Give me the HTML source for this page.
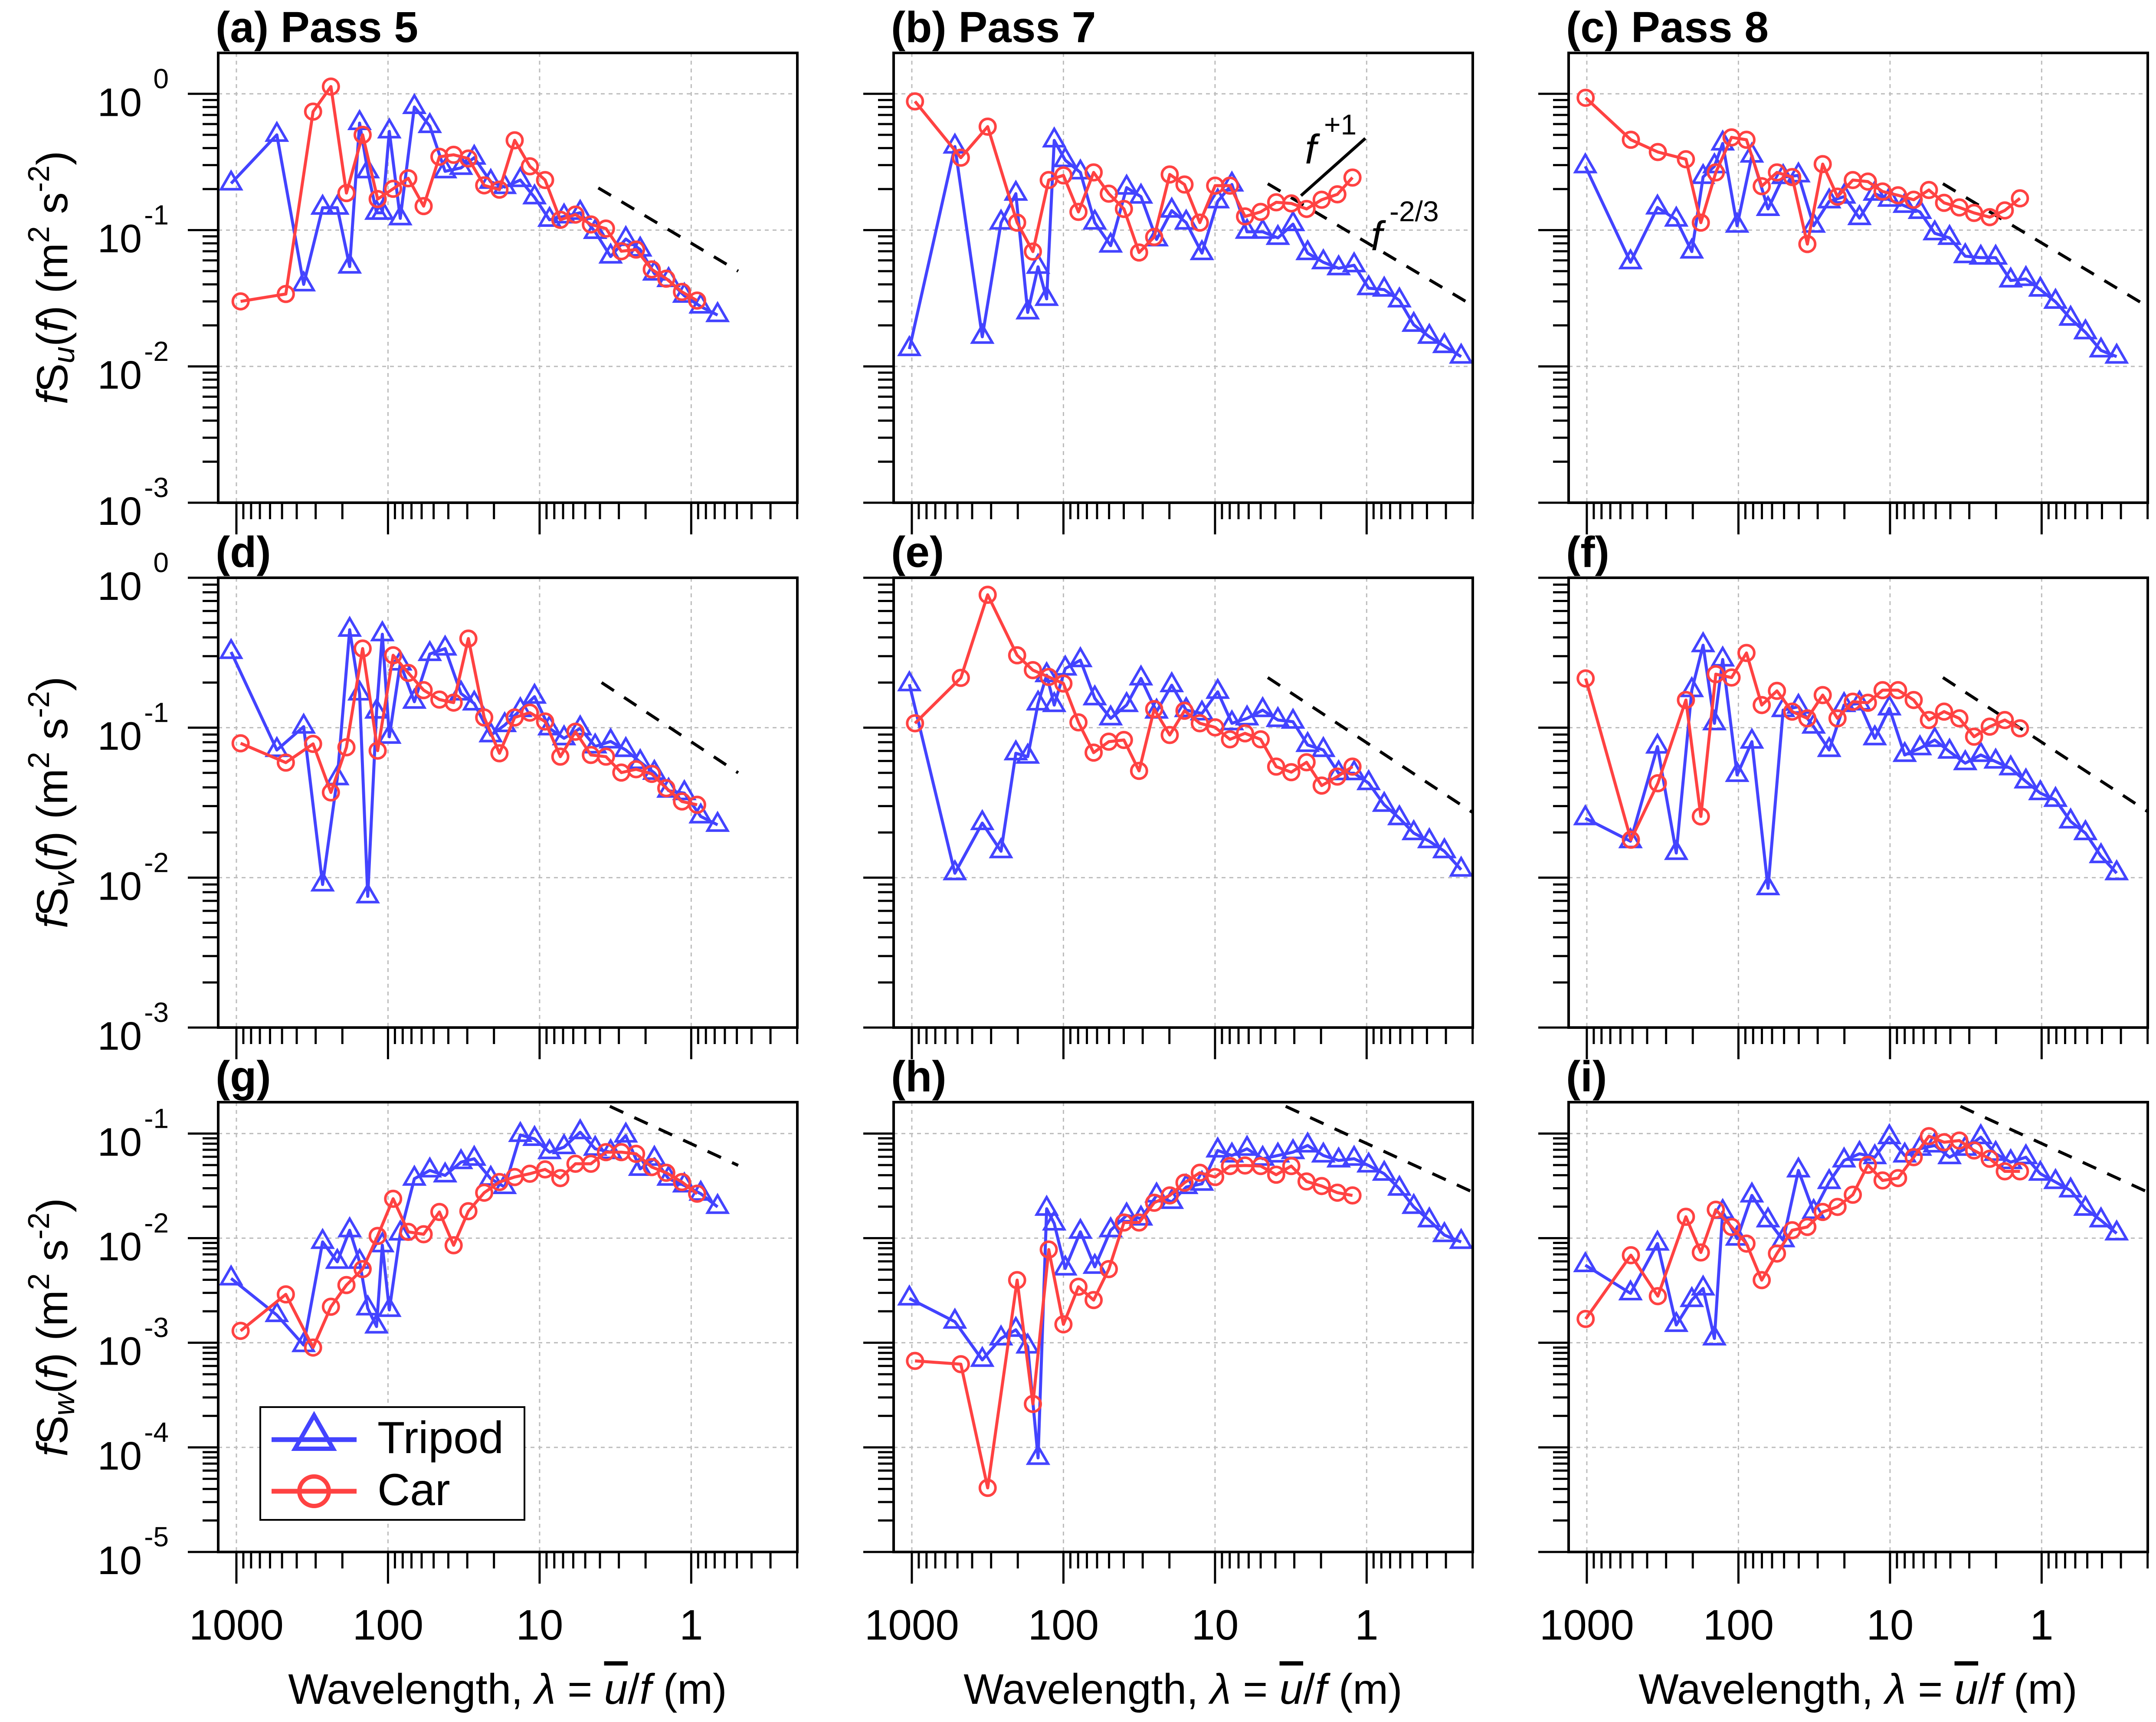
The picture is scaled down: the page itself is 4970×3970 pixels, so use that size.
<!DOCTYPE html>
<html><head><meta charset="utf-8"><style>
html,body{margin:0;padding:0;background:#fff;}
svg{display:block;font-family:"Liberation Sans",Arial,sans-serif;}
</style></head>
<body>
<svg id="fig" xmlns="http://www.w3.org/2000/svg" width="4970" height="3970" viewBox="0 0 4970 3970">
<rect x="0" y="0" width="4970" height="3970" fill="#fff"/>
</svg>
<script>
// ---------- data ----------
const col1TripodLambda=[1084,541,360,270,216,179,154,136,119,109,98,83,67,53,42,33,27,21,17,13.4,10.8,8.6,6.9,5.4,4.3,3.4,2.7,2.17,1.75,1.41,1.11,0.865,0.67];
const col1CarLambda=[938,472,312,238,188,147,117,92.5,73.5,58.2,45.8,36.9,29.5,23.2,18.4,14.6,11.6,9.2,7.3,5.8,4.59,3.65,2.89,2.31,1.82,1.46,1.15,0.914];
const col2TripodLambda=[1038,520,343,258,206,172,147,129,115,97.3,77.3,62.1,48.8,38.3,30.8,24.3,19.3,15.5,12.2,9.6,7.74,6.15,4.85,3.85,3.06,2.45,1.93,1.53,1.21,0.97,0.766,0.608,0.489,0.386,0.307,0.238];
const col2CarLambda=[953,475,316,202,159,125,100,79.6,63.2,50.2,39.9,31.7,25.2,19.9,15.9,12.6,9.98,7.97,6.34,5.0,3.95,3.14,2.49,1.98,1.56,1.24];
const col3TripodLambda=[1023,515,342,257,203,171,144,127,102,81.5,63.8,50.7,40.2,31.9,25.2,20.1,15.9,12.6,10.1,8.0,6.35,5.07,4.05,3.19,2.52,2.01,1.60,1.27,1.02,0.81,0.644,0.514,0.406,0.32];
const col3CarLambda=[1018,512,340,222,177,141,111,88.5,70.2,55.7,44.2,35.1,27.8,22.2,17.6,14.0,11.2,8.85,6.98,5.54,4.40,3.49,2.79,2.20,1.75,1.39];

const aTripod=[0.22,0.50,0.040,0.146,0.146,0.054,0.61,0.27,0.134,0.134,0.53,0.122,0.80,0.58,0.27,0.286,0.34,0.226,0.207,0.233,0.174,0.119,0.126,0.134,0.097,0.064,0.086,0.072,0.048,0.043,0.033,0.0275,0.0238];
const aCar=[0.030,0.034,0.74,1.13,0.187,0.50,0.169,0.201,0.240,0.150,0.345,0.357,0.335,0.213,0.198,0.456,0.294,0.233,0.119,0.130,0.110,0.1026,0.070,0.072,0.0515,0.044,0.0352,0.0304];
const dTripod=[0.32,0.071,0.1016,0.0090,0.046,0.45,0.169,0.0075,0.128,0.42,0.087,0.268,0.149,0.31,0.337,0.169,0.145,0.089,0.104,0.131,0.161,0.099,0.085,0.099,0.075,0.081,0.071,0.059,0.050,0.038,0.0366,0.0256,0.0225];
const dCar=[0.0787,0.0585,0.078,0.037,0.074,0.337,0.0703,0.304,0.232,0.178,0.154,0.147,0.393,0.117,0.0675,0.117,0.126,0.110,0.0641,0.094,0.0658,0.0641,0.0502,0.0528,0.0492,0.0395,0.0322,0.0306];
const gTripod=[0.00412,0.00184,0.00095,0.0092,0.00594,0.0119,0.00594,0.00213,0.00143,0.00855,0.00206,0.01107,0.037,0.0444,0.0398,0.0533,0.0574,0.037,0.0308,0.097,0.0889,0.0664,0.0741,0.103,0.0715,0.0664,0.0957,0.046,0.0574,0.037,0.0319,0.0266,0.0199];
const gCar=[0.0013,0.0029,0.0009,0.00221,0.00356,0.00506,0.0105,0.0238,0.01148,0.0109,0.0178,0.00855,0.0181,0.0272,0.0344,0.0384,0.0413,0.0454,0.0375,0.0514,0.0514,0.0664,0.0664,0.064,0.0478,0.0422,0.0344,0.0266];

const bTripod=[0.0134,0.41,0.0165,0.1135,0.185,0.0249,0.0538,0.0313,0.455,0.326,0.265,0.1135,0.077,0.205,0.176,0.0855,0.139,0.1135,0.0678,0.1626,0.216,0.0972,0.0972,0.0877,0.1106,0.0678,0.0581,0.0525,0.0552,0.0375,0.0366,0.0305,0.0202,0.0165,0.0141,0.0118];
const bCar=[0.88,0.34,0.574,0.1135,0.0696,0.233,0.252,0.136,0.265,0.185,0.143,0.0685,0.089,0.256,0.216,0.1135,0.212,0.212,0.126,0.136,0.160,0.157,0.143,0.167,0.183,0.243];
const eTripod=[0.195,0.0107,0.0231,0.0150,0.0675,0.0641,0.145,0.224,0.1416,0.248,0.282,0.157,0.1154,0.1416,0.213,0.128,0.192,0.131,0.1245,0.1735,0.107,0.1154,0.131,0.1125,0.1096,0.0767,0.071,0.0497,0.0497,0.0427,0.0306,0.0249,0.0198,0.0175,0.0150,0.0113];
const eCar=[0.107,0.215,0.77,0.304,0.242,0.218,0.197,0.1085,0.0682,0.0807,0.0828,0.0515,0.133,0.0894,0.1297,0.107,0.1005,0.0836,0.0917,0.0836,0.055,0.0505,0.0588,0.0411,0.0472,0.055];
const hTripod=[0.00265,0.00159,0.000686,0.0011,0.00133,0.00092,0.0000793,0.0191,0.0138,0.00513,0.0115,0.00532,0.0119,0.0165,0.0154,0.0256,0.0222,0.0308,0.0331,0.0689,0.0617,0.0715,0.0574,0.0617,0.0664,0.0769,0.0617,0.0553,0.0574,0.0495,0.0413,0.0297,0.0199,0.0148,0.0107,0.0092];
const hCar=[0.000671,0.000624,0.000041,0.00397,0.00026,0.00778,0.0015,0.00343,0.00256,0.00506,0.0141,0.0141,0.0218,0.0256,0.0339,0.0422,0.0384,0.0489,0.0495,0.0489,0.0404,0.0489,0.0348,0.0315,0.0272,0.0256];

const cTripod=[0.294,0.0581,0.1466,0.1194,0.0696,0.2454,0.294,0.432,0.1077,0.352,0.143,0.245,0.252,0.1077,0.1626,0.176,0.1225,0.185,0.167,0.1506,0.136,0.0948,0.0877,0.0644,0.0628,0.0628,0.0427,0.0438,0.0366,0.0298,0.0224,0.0178,0.0131,0.0118];
const cCar=[0.935,0.46,0.374,0.331,0.1135,0.265,0.479,0.46,0.21,0.265,0.245,0.079,0.305,0.176,0.233,0.227,0.192,0.180,0.167,0.197,0.1585,0.1466,0.1337,0.1245,0.1394,0.171];
const fTripod=[0.0249,0.0175,0.0748,0.0146,0.178,0.355,0.107,0.285,0.0484,0.0807,0.0085,0.131,0.138,0.1016,0.071,0.1416,0.145,0.085,0.1345,0.0658,0.0729,0.0828,0.0692,0.058,0.0658,0.0594,0.0536,0.0438,0.0366,0.033,0.0237,0.0198,0.0139,0.0107];
const fCar=[0.213,0.0179,0.0426,0.153,0.0256,0.2275,0.216,0.315,0.1416,0.176,0.128,0.1154,0.165,0.1154,0.149,0.1466,0.178,0.178,0.153,0.1125,0.128,0.1154,0.0871,0.1016,0.1125,0.099];
const iTripod=[0.00552,0.00297,0.00887,0.00148,0.00256,0.0033,0.0011,0.0178,0.0099,0.0256,0.0148,0.00955,0.0444,0.0178,0.0344,0.0553,0.064,0.0594,0.0923,0.0617,0.0715,0.0769,0.0594,0.0715,0.0923,0.064,0.0533,0.0594,0.0413,0.0344,0.0286,0.0191,0.0148,0.0111];
const iCar=[0.00169,0.00687,0.00279,0.016,0.0073,0.0187,0.0128,0.00887,0.00397,0.00713,0.0119,0.0128,0.0178,0.0199,0.026,0.0502,0.0356,0.0375,0.0594,0.0944,0.0826,0.0857,0.0689,0.0574,0.0435,0.0435];

// reference slope lines [lambda1, value1, lambda2, value2]
const refA=[4.1,0.204,0.49,0.05], refD=[3.9,0.2,0.49,0.05], refG=[3.44,0.182,0.49,0.0496];
const refB=[4.49,0.219,0.2,0.028], refE=[4.49,0.216,0.2,0.0272], refH=[3.42,0.182,0.2,0.0276];
const refC=[4.48,0.219,0.2,0.0275], refF=[4.48,0.216,0.2,0.0276], refI=[3.43,0.182,0.2,0.0276];
const slopePlusOneB=[2.71,0.179,1.02,0.471];

const xTickLabels=["1000","100","10","1"];
const xTickValues=[1000,100,10,1];
const panelLetters=["a","b","c","d","e","f","g","h","i"];
const passNames=["Pass 5","Pass 7","Pass 8"];

// ---------- layout ----------
const NS="http://www.w3.org/2000/svg";
const svg=document.getElementById("fig");
const colLeft=[503,2060,3616], W=1335;
const rowTop=[122,1332,2541], H=1037;
const yRange=[[-3,0.3],[-3,0],[-5,-0.7]];
const xLogMax=3.12, xLogMin=-0.70;
const BLUE="#4343ff", RED="#ff4242";

function mk(tag,attrs,parent){const e=document.createElementNS(NS,tag);for(const k in attrs)e.setAttribute(k,attrs[k]);(parent||svg).appendChild(e);return e;}
function xScale(c,lam){return colLeft[c]+(xLogMax-Math.log10(lam))/(xLogMax-xLogMin)*W;}
function yScale(r,v){const [lo,hi]=yRange[r];return rowTop[r]+(hi-Math.log10(v))/(hi-lo)*H;}

const panels=[
 {r:0,c:0,tl:col1TripodLambda,tv:aTripod,cl:col1CarLambda,cv:aCar,ref:refA},
 {r:0,c:1,tl:col2TripodLambda,tv:bTripod,cl:col2CarLambda,cv:bCar,ref:refB},
 {r:0,c:2,tl:col3TripodLambda,tv:cTripod,cl:col3CarLambda,cv:cCar,ref:refC},
 {r:1,c:0,tl:col1TripodLambda,tv:dTripod,cl:col1CarLambda,cv:dCar,ref:refD},
 {r:1,c:1,tl:col2TripodLambda,tv:eTripod,cl:col2CarLambda,cv:eCar,ref:refE},
 {r:1,c:2,tl:col3TripodLambda,tv:fTripod,cl:col3CarLambda,cv:fCar,ref:refF},
 {r:2,c:0,tl:col1TripodLambda,tv:gTripod,cl:col1CarLambda,cv:gCar,ref:refG},
 {r:2,c:1,tl:col2TripodLambda,tv:hTripod,cl:col2CarLambda,cv:hCar,ref:refH},
 {r:2,c:2,tl:col3TripodLambda,tv:iTripod,cl:col3CarLambda,cv:iCar,ref:refI}
];

function triPts(x,y,s){const h=s*0.866;return `${x},${y-2*h/3} ${x-s/2},${y+h/3} ${x+s/2},${y+h/3}`;}

panels.forEach((p,idx)=>{
  const r=p.r, c=p.c;
  const left=colLeft[c], top=rowTop[r], bottom=top+H, right=left+W;
  const letter=panelLetters[idx];
  const g=mk("g",{});
  
  
  const [lo,hi]=yRange[r];
  xTickValues.forEach(v=>{
    const x=xScale(c,v);
    const gl=mk("line",{x1:x,y1:top,x2:x,y2:bottom,stroke:"#bdbdbd","stroke-width":3,"stroke-dasharray":"9 9"},g);
    
    
  });
  for(let d=Math.ceil(lo);d<=Math.floor(hi);d++){
    if(d===lo) continue;
    const y=yScale(r,Math.pow(10,d));
    const gl=mk("line",{x1:left,y1:y,x2:right,y2:y,stroke:"#bdbdbd","stroke-width":3,"stroke-dasharray":"9 9"},g);
    
    
  }
  for(let d=Math.floor(lo);d<=Math.ceil(hi);d++){
    for(let k=1;k<=9;k++){
      const v=k*Math.pow(10,d), lv=Math.log10(v);
      if(lv<lo-1e-9||lv>hi+1e-9) continue;
      const y=yScale(r,v), len=(k===1)?70:36;
      const t=mk("line",{x1:left-len,y1:y,x2:left,y2:y,stroke:"#000","stroke-width":5},g);
      
      
      if(k===1&&c===0){
        const tx=mk("text",{x:left-176,y:y+51,"font-size":92,"text-anchor":"end"},g);
        tx.textContent="10";
        
        
        const ex=mk("text",{x:left-114,y:y-13,"font-size":64,"text-anchor":"end"},g);
        ex.textContent=String(d);
        
        
      }
    }
  }
  for(let d=-1;d<=3;d++){
    for(let k=1;k<=9;k++){
      const v=k*Math.pow(10,d), lv=Math.log10(v);
      if(lv>xLogMax||lv<xLogMin-1e-9) continue;
      const x=xScale(c,v), len=(k===1)?73:38;
      const t=mk("line",{x1:x,y1:bottom,x2:x,y2:bottom+len,stroke:"#000","stroke-width":5},g);
      
      
    }
  }
  if(r===2){
    xTickValues.forEach((v,i)=>{
      const tx=mk("text",{x:xScale(c,v),y:3780,"font-size":98,"text-anchor":"middle"},g);
      tx.textContent=xTickLabels[i];
      
      
    });
  }
  const rf=p.ref;
  const dl=mk("line",{x1:xScale(c,rf[0]),y1:yScale(r,rf[1]),x2:xScale(c,rf[2]),y2:yScale(r,rf[3]),stroke:"#000","stroke-width":7,"stroke-dasharray":"34 28"},g);
  
  
  const tp=p.tl.map((l,i)=>xScale(c,l)+","+yScale(r,p.tv[i])).join(" ");
  const tl=mk("polyline",{points:tp,fill:"none",stroke:BLUE,"stroke-width":7,"stroke-linejoin":"round"},g);
  
  
  p.tl.forEach((l,i)=>{
    const m=mk("polygon",{points:triPts(xScale(c,l),yScale(r,p.tv[i]),46),fill:"none",stroke:BLUE,"stroke-width":6},g);
    
    
  });
  const cp=p.cl.map((l,i)=>xScale(c,l)+","+yScale(r,p.cv[i])).join(" ");
  const cl=mk("polyline",{points:cp,fill:"none",stroke:RED,"stroke-width":7,"stroke-linejoin":"round"},g);
  
  
  p.cl.forEach((l,i)=>{
    const m=mk("circle",{cx:xScale(c,l),cy:yScale(r,p.cv[i]),r:18,fill:"none",stroke:RED,"stroke-width":6},g);
    
    
  });
  const fr=mk("rect",{x:left,y:top,width:W,height:H,fill:"none",stroke:"#000","stroke-width":6},g);
  
  
  const tt=mk("text",{x:left-6,y:top-25,"font-size":100,"font-weight":"bold"},g);
  tt.textContent="("+letter+")"+(r===0?" "+passNames[c]:"");
  
  
});

const sp=mk("line",{x1:xScale(1,slopePlusOneB[0]),y1:yScale(0,slopePlusOneB[1]),x2:xScale(1,slopePlusOneB[2]),y2:yScale(0,slopePlusOneB[3]),stroke:"#000","stroke-width":7});


</script>
<script>
(function(){
  const s=document.getElementById("fig");
  function add(html){s.insertAdjacentHTML("beforeend",html);}
  add('<text x="3008" y="377" font-size="96" font-style="italic">f</text>');
  add('<text x="3052" y="310" font-size="66">+1</text>');
  add('<text x="3160" y="577" font-size="96" font-style="italic">f</text>');
  add('<text x="3203" y="510" font-size="66">-2/3</text>');
  const rows=[["u",640],["v",1850],["w",3060]];
  rows.forEach(function(rw){
    add('<text transform="translate(155,'+rw[1]+') rotate(-90)" text-anchor="middle" font-size="100"><tspan font-style="italic">f</tspan>S<tspan font-style="italic" font-size="70" dy="16">'+rw[0]+'</tspan><tspan dy="-16">(</tspan><tspan font-style="italic">f</tspan>) (m<tspan font-size="70" dy="-42">2</tspan><tspan dy="42"> s</tspan><tspan font-size="70" dy="-42">-2</tspan><tspan dy="42">)</tspan></text>');
  });
  [1170,2727,4283].forEach(function(cx){
    add('<text x="'+cx+'" y="3928" text-anchor="middle" font-size="98">Wavelength, <tspan font-style="italic">λ</tspan> = <tspan font-style="italic" text-decoration="overline" style="text-decoration:overline">u</tspan>/<tspan font-style="italic">f</tspan> (m)</text>');
  });
  add('<g>'+
    '<rect x="600" y="3244" width="609" height="260" fill="#fff" stroke="#000" stroke-width="4"/>'+
    '<line x1="626" y1="3319" x2="822" y2="3319" stroke="#4343ff" stroke-width="11"/>'+
    '<polygon points="724,3263 680,3340 768,3340" fill="none" stroke="#4343ff" stroke-width="10"/>'+
    '<text x="870" y="3350" font-size="104">Tripod</text>'+
    '<line x1="626" y1="3438" x2="822" y2="3438" stroke="#ff4242" stroke-width="11"/>'+
    '<circle cx="724" cy="3438" r="34" fill="none" stroke="#ff4242" stroke-width="10"/>'+
    '<text x="870" y="3470" font-size="104">Car</text>'+
    '</g>');
})();
</script>
</body></html>
